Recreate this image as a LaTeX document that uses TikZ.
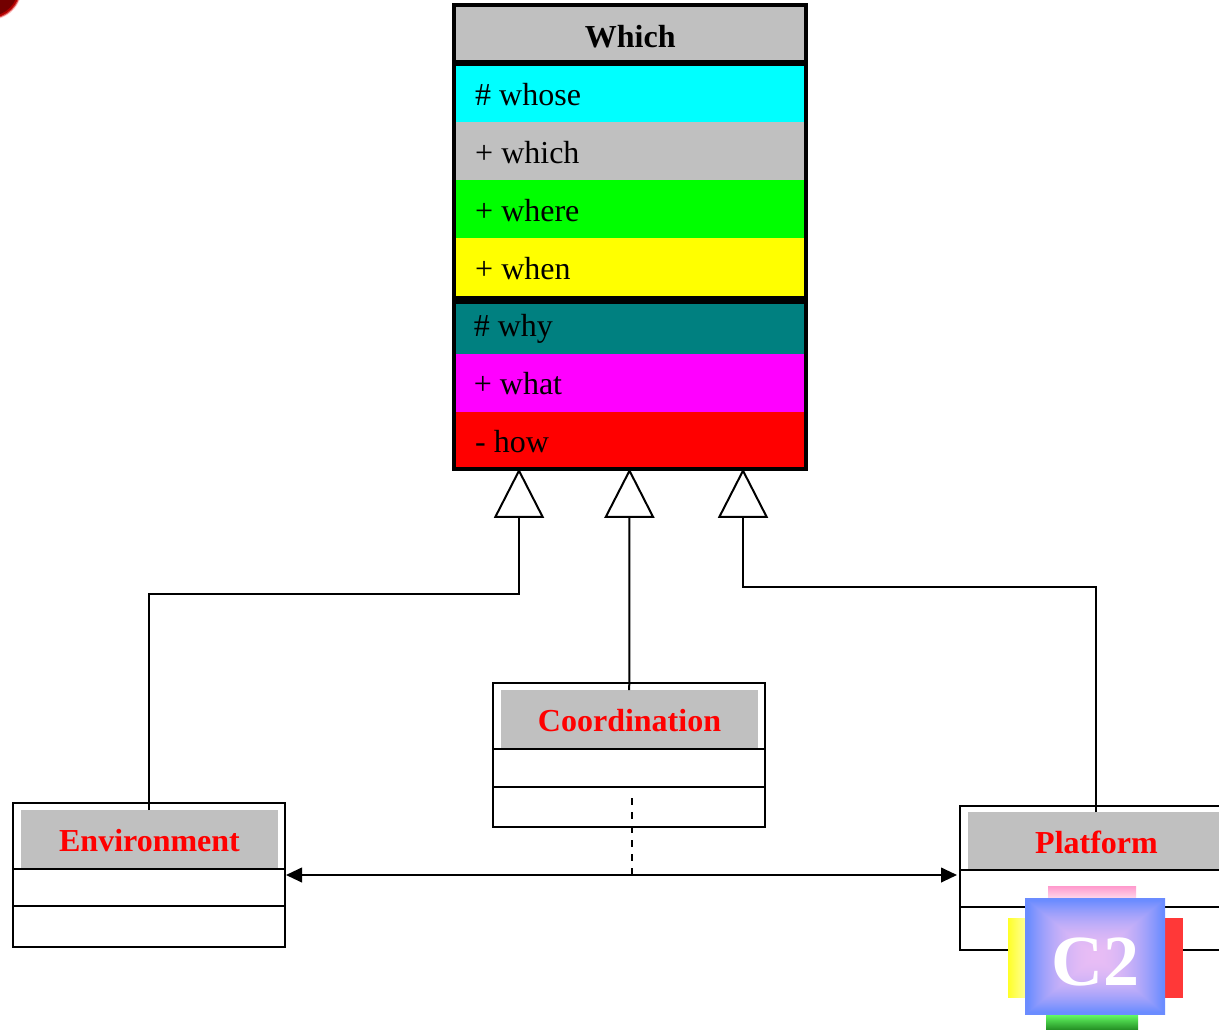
\documentclass[tikz,border=0pt]{standalone}
\usepackage{fontspec}
\setmainfont{Liberation Serif}
\usetikzlibrary{arrows.meta}
\definecolor{umlgray}{HTML}{C0C0C0}
\definecolor{umlteal}{HTML}{008080}
\definecolor{rowcyan}{HTML}{00FFFF}
\definecolor{rowgreen}{HTML}{00FF00}
\definecolor{rowyellow}{HTML}{FFFF00}
\definecolor{rowmagenta}{HTML}{FF00FF}
\definecolor{rowred}{HTML}{FF0000}
\pgfdeclarefunctionalshading{rectglow}{\pgfpoint{-50bp}{-50bp}}{\pgfpoint{50bp}{50bp}}{}{
  abs exch abs 2 copy lt {exch} if pop 24 div dup 1 gt {pop 1} if dup mul
  dup dup
  0.04 mul 0.96 add 3 1 roll
  -0.19 mul 0.74 add 3 1 roll
  -0.49 mul 0.91 add 3 1 roll
}
\tikzset{
  rowbox/.style={anchor=north west,inner ysep=0pt,inner xsep=#1,text width=261pt-2*#1,align=flush left,font=\fontsize{24pt}{24pt}\selectfont},
  fillrow/.style={fill=#1,draw=#1,line width=0.3pt},
  classpart/.style={anchor=north west,draw=black,line width=1.5pt,minimum width=204pt,minimum height=#1,inner sep=0pt,outer sep=0pt},
  classhead/.style={anchor=north west,fill=umlgray,inner sep=0pt,outer sep=0pt,text width=192.75pt,align=center,text=red,font=\fontsize{24pt}{24pt}\selectfont\bfseries},
  wire/.style={draw=black,line width=1.5pt},
  inherit/.style={wire,-{Triangle[open,fill=white,length=37pt,width=37.5pt]}},
  assoc/.style={wire,{Triangle[length=12pt,width=11pt]}-{Triangle[length=12pt,width=11pt]}},
  dependency/.style={draw=black,line width=1.5pt,dash pattern=on 5.25pt off 5.25pt},
}
\begin{document}
\begin{tikzpicture}[x=0.75pt,y=-0.75pt]
\useasboundingbox (0,0) rectangle (1219,1030);
\clip (0,0) rectangle (1219,1030);
\fill[white] (0,0) rectangle (1219,1030);
% corner blob
\fill[red!22!white] (-10,-12) circle (32);
\fill[red!80!black!70!white] (-10,-12) circle (31);
\fill[red!70!black] (-10,-12) circle (30);
\fill[red!45!black] (-10,-12) circle (28);
% Which class rows
\node[rowbox=0pt,fillrow=umlgray,text height=30pt,text depth=12pt,align=center,font=\fontsize{24pt}{24pt}\selectfont\bfseries] (hdr) at (456,7) {Which};
\node[rowbox=14.25pt,fillrow=rowcyan,text height=31.75pt,text depth=12.5pt] (whose) at (456,63) {\# whose};
\node[rowbox=14.25pt,fillrow=umlgray,text height=31pt,text depth=12.5pt] (whichrow) at (456,122) {+ which};
\node[rowbox=14.25pt,fillrow=rowgreen,text height=31pt,text depth=12.5pt] (whererow) at (456,180) {+ where};
\node[rowbox=14.25pt,fillrow=rowyellow,text height=31pt,text depth=15.5pt] (whenrow) at (456,238) {+ when};
\node[rowbox=13.25pt,fillrow=umlteal,text height=27pt,text depth=13.5pt] (whyrow) at (456,300) {\# why};
\node[rowbox=13.25pt,fillrow=rowmagenta,text height=30pt,text depth=13.5pt] (whatrow) at (456,354) {+ what};
\node[rowbox=14.25pt,fillrow=rowred,text height=30pt,text depth=11.25pt] (howrow) at (456,412) {- how};
\draw[line width=4.5pt] (whose.north west) -- (whose.north east);
\draw[line width=5.25pt] (whyrow.north west) -- (whyrow.north east);
\node[anchor=north west,draw=black,line width=3pt,minimum width=264pt,minimum height=348pt,inner sep=0pt,outer sep=0pt] (which) at (454,5) {};
% Environment
\node[classhead,text height=30.75pt,text depth=13.5pt] (envH) at (21,810) {Environment};
\node[classpart={49.5pt}] (envT) at (13,803) {};
\node[classpart={27.75pt}] (envM) at (13,869) {};
\node[classpart={30.75pt}] (envB) at (13,906) {};
% Coordination
\node[classhead,text height=31pt,text depth=12.5pt] (coH) at (501,690) {Coordination};
\node[classpart={49.5pt}] (coT) at (493,683) {};
\node[classpart={28.5pt}] (coM) at (493,749) {};
\node[classpart={30pt}] (coB) at (493,787) {};
% Platform
\node[classhead,text height=31pt,text depth=12.5pt] (plH) at (968,812) {Platform};
\node[classpart={48pt}] (plT) at (960,806) {};
\node[classpart={27.75pt}] (plM) at (960,870) {};
\node[classpart={32.25pt}] (plB) at (960,907) {};
% connectors
\coordinate (w1) at (519,468.5);
\coordinate (w2) at (629.5,468.5);
\coordinate (w3) at (743,468.5);
\coordinate (b1) at (519,594);
\coordinate (b3) at (743,587);
\coordinate (envdock) at (286,875);
\coordinate (pldock) at (957,875);
\coordinate (junction) at (631.5,875);
\coordinate (dashstart) at (631.5,798);
\draw[inherit] ([xshift=-0.5pt]envH.north) |- (b1) -- (w1);
\draw[inherit] ([xshift=-0.2pt]coH.north) -- (w2);
\draw[inherit] ([xshift=-0.5pt]plH.north) |- (b3) -- (w3);
\draw[assoc] (envdock) -- (pldock);
\draw[dependency] (dashstart) -- (junction);
% C2 logo
\shade[top color={rgb,255:red,255;green,153;blue,204},bottom color={rgb,255:red,255;green,215;blue,235}] (1048,886) rectangle (1136,898);
\shade[left color={rgb,255:red,255;green,255;blue,40},right color={rgb,255:red,255;green,255;blue,150}] (1008,918) rectangle (1025,997);
\fill[fill={rgb,255:red,255;green,56;blue,56}] (1165,918) rectangle (1183,998);
\shade[top color={rgb,255:red,102;green,255;blue,102},bottom color={rgb,255:red,34;green,140;blue,34}] (1046,1014) rectangle (1138,1030);
\path[shading=rectglow] (1025,898) rectangle (1165,1014);
\node[anchor=base,inner sep=0pt,text=white,font=\fontsize{54pt}{54pt}\selectfont\bfseries] (logo) at (1095,985) {C2};
\end{tikzpicture}
\end{document}
